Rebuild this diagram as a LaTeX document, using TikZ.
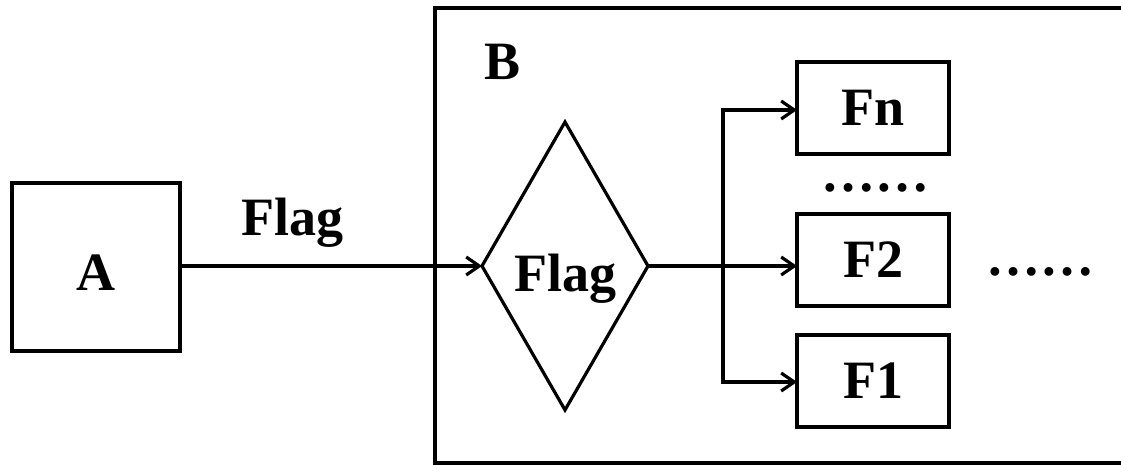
\documentclass[tikz,border=0pt]{standalone}
\usepackage{fontspec}
\setmainfont{Liberation Serif}
\usetikzlibrary{shapes.geometric,arrows.meta}
\begin{document}
\begin{tikzpicture}[x=1pt,y=-1pt,
  lw/.style={line width=3.2pt},
  txt/.style={font=\bfseries\fontsize{54}{60}\selectfont},
  box/.style={draw,lw,txt,inner sep=0,outer sep=0,minimum width=152pt,minimum height=92pt},
  lbl/.style={txt,inner sep=0},
  arr/.style={lw,-{Straight Barb[length=13pt,width=18pt,line width=3.2pt]}}]
\useasboundingbox (0,0) rectangle (1121,465);
\node[box,minimum width=168pt,minimum height=168pt] (A) at (96,267) {};
\node[lbl,anchor=base] (Atext) at (96,290) {A};
\node[draw,lw,inner sep=0,outer sep=0,minimum width=720pt,minimum height=455pt] (B) at (795,235.5) {};
\node[lbl,anchor=base] (Btext) at (503,80) {B};
\node[draw,lw,diamond,inner sep=0,outer sep=0,minimum width=166pt,minimum height=288pt] (D) at (565,266) {};
\node[lbl,anchor=base] (Dtext) at (565,291) {Flag};
\node[box] (Fn) at (873,108) {Fn};
\node[box] (F2) at (873,260) {F2};
\node[box] (F1) at (873,381) {F1};
\node[lbl,anchor=base] (flag) at (292,235) {Flag};
\node[lbl,anchor=base] (dots1) at (875,192) {……};
\node[lbl,anchor=base] (dots2) at (1040,275) {……};
\draw[arr] (A.east |- D.west) -- (D.west);
\coordinate (J) at (723,266);
\draw[arr] (D.east) -- (D.east -| F2.west);
\draw[arr] (J) |- (J |- 0,110) -- (F2.west |- 0,110);
\draw[arr] (J) |- (J |- 0,382) -- (F2.west |- 0,382);
\end{tikzpicture}
\end{document}
